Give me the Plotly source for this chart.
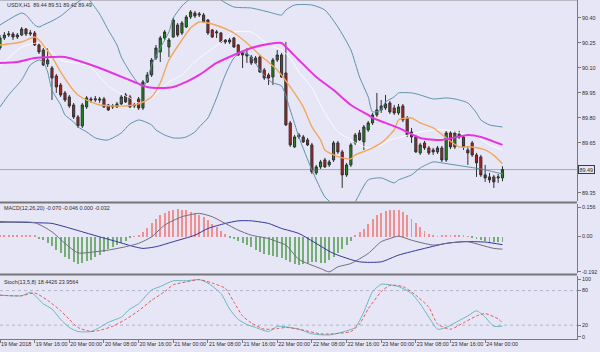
import plotly.graph_objects as go

# ---------------- data (H1 bars, index = hours from 19 Mar 08:00) ----------------
tick_bars = [0, 8, 16, 24, 32, 40, 48, 56, 64, 72, 80, 88, 96, 104, 112]
tick_labels = ["19 Mar 2018", "19 Mar 16:00", "20 Mar 00:00", "20 Mar 08:00", "20 Mar 16:00",
               "21 Mar 00:00", "21 Mar 08:00", "21 Mar 16:00", "22 Mar 00:00", "22 Mar 08:00",
               "22 Mar 16:00", "23 Mar 00:00", "23 Mar 08:00", "23 Mar 16:00", "24 Mar 00:00"]

open_ = [
    90.220, 90.280, 90.298, 90.304, 90.286, 90.298, 90.334, 90.304, 90.310, 90.238,
    90.208, 90.124, 90.100, 90.052, 89.998, 89.950, 89.926, 89.878, 89.806, 89.752,
    89.866, 89.914, 89.908, 89.914, 89.914, 89.878, 89.866, 89.866, 89.884, 89.938,
    89.926, 89.872, 89.914, 89.860, 90.016, 90.058, 90.160, 90.196, 90.280, 90.226,
    90.286, 90.358, 90.310, 90.346, 90.406, 90.430, 90.418, 90.418, 90.388, 90.328,
    90.310, 90.310, 90.268, 90.268, 90.280, 90.238, 90.190, 90.172, 90.166, 90.160,
    90.166, 90.088, 90.058, 90.046, 90.148, 90.178, 90.070, 89.770, 89.626, 89.686,
    89.686, 89.668, 89.638, 89.470, 89.506, 89.548, 89.518, 89.548, 89.650, 89.596,
    89.458, 89.518, 89.650, 89.710, 89.656, 89.728, 89.770, 89.818, 89.848, 89.860,
    89.890, 89.860, 89.830, 89.872, 89.800, 89.716, 89.686, 89.590, 89.650, 89.620,
    89.608, 89.596, 89.620, 89.548, 89.710, 89.626, 89.704, 89.686, 89.608, 89.650,
    89.578, 89.566, 89.458, 89.446, 89.446, 89.440, 89.440]
high = [
    90.298, 90.316, 90.322, 90.316, 90.310, 90.346, 90.340, 90.328, 90.322, 90.250,
    90.220, 90.220, 90.112, 90.064, 90.010, 89.962, 89.938, 89.890, 89.818, 89.890,
    89.932, 89.926, 89.932, 89.926, 89.926, 89.884, 89.884, 89.896, 89.938, 89.950,
    89.938, 89.890, 89.926, 90.028, 90.076, 90.160, 90.238, 90.292, 90.328, 90.280,
    90.400, 90.370, 90.382, 90.418, 90.448, 90.442, 90.436, 90.430, 90.394, 90.334,
    90.328, 90.316, 90.274, 90.280, 90.286, 90.244, 90.196, 90.220, 90.178, 90.172,
    90.178, 90.100, 90.070, 90.160, 90.208, 90.190, 90.256, 89.782, 89.698, 89.710,
    89.698, 89.680, 89.650, 89.518, 89.548, 89.560, 89.548, 89.662, 89.662, 89.608,
    89.530, 89.650, 89.710, 89.728, 89.758, 89.782, 89.830, 89.950, 89.908, 89.938,
    89.902, 89.878, 89.884, 89.884, 89.812, 89.740, 89.698, 89.650, 89.662, 89.632,
    89.620, 89.632, 89.632, 89.722, 89.722, 89.722, 89.722, 89.698, 89.632, 89.662,
    89.590, 89.578, 89.518, 89.470, 89.458, 89.464, 89.510]
low = [
    90.208, 90.268, 90.286, 90.268, 90.274, 90.292, 90.292, 90.292, 90.232, 90.184,
    90.112, 90.106, 89.908, 89.950, 89.926, 89.896, 89.860, 89.794, 89.740, 89.740,
    89.854, 89.890, 89.896, 89.890, 89.860, 89.842, 89.854, 89.860, 89.878, 89.890,
    89.860, 89.860, 89.848, 89.848, 90.010, 90.046, 90.148, 90.136, 90.268, 90.166,
    90.280, 90.286, 90.298, 90.340, 90.394, 90.400, 90.406, 90.370, 90.298, 90.280,
    90.280, 90.250, 90.244, 90.244, 90.220, 90.172, 90.100, 90.130, 90.118, 90.124,
    90.070, 90.028, 89.998, 89.998, 90.136, 90.040, 89.752, 89.626, 89.620, 89.674,
    89.650, 89.632, 89.464, 89.458, 89.494, 89.500, 89.506, 89.536, 89.584, 89.380,
    89.446, 89.506, 89.638, 89.662, 89.608, 89.716, 89.758, 89.806, 89.830, 89.848,
    89.824, 89.818, 89.818, 89.776, 89.686, 89.650, 89.590, 89.578, 89.608, 89.578,
    89.578, 89.584, 89.536, 89.536, 89.614, 89.614, 89.674, 89.608, 89.518, 89.566,
    89.446, 89.446, 89.416, 89.410, 89.380, 89.410, 89.420]
close = [
    90.280, 90.298, 90.304, 90.286, 90.298, 90.334, 90.304, 90.310, 90.238, 90.196,
    90.118, 90.148, 90.040, 89.986, 89.938, 89.908, 89.872, 89.806, 89.752, 89.878,
    89.920, 89.908, 89.914, 89.908, 89.866, 89.848, 89.872, 89.884, 89.926, 89.896,
    89.866, 89.878, 89.860, 90.016, 90.058, 90.148, 90.220, 90.280, 90.316, 90.268,
    90.388, 90.298, 90.370, 90.406, 90.436, 90.412, 90.424, 90.376, 90.310, 90.286,
    90.316, 90.256, 90.256, 90.256, 90.226, 90.178, 90.178, 90.184, 90.130, 90.130,
    90.076, 90.040, 90.040, 90.148, 90.178, 90.046, 89.758, 89.638, 89.686, 89.698,
    89.656, 89.638, 89.476, 89.506, 89.536, 89.506, 89.536, 89.650, 89.596, 89.458,
    89.518, 89.638, 89.698, 89.668, 89.746, 89.770, 89.818, 89.848, 89.872, 89.884,
    89.836, 89.830, 89.866, 89.788, 89.698, 89.686, 89.596, 89.638, 89.620, 89.590,
    89.596, 89.620, 89.548, 89.710, 89.626, 89.710, 89.686, 89.626, 89.590, 89.578,
    89.530, 89.458, 89.440, 89.428, 89.416, 89.446, 89.490]
bars = list(range(len(close)))
last_price = 89.49

# Bollinger bands
bb_up_bar = [0, 5, 6, 8, 9, 10, 12, 14, 16, 18, 20, 21, 23, 25, 27, 28, 30, 32, 33, 34,
             35, 37, 39, 40, 42, 44, 45, 47, 50, 51, 54, 58, 62, 65, 66, 68, 72, 75, 78, 81,
             83, 85, 86, 88, 89, 91, 92, 95, 97, 100, 103, 105, 108, 110, 111, 113, 116]
bb_up = [90.358, 90.430, 90.418, 90.358, 90.346, 90.358, 90.382, 90.412, 90.454, 90.496,
         90.526, 90.496, 90.424, 90.328, 90.238, 90.166, 90.076, 90.004, 89.986, 90.028,
         90.118, 90.220, 90.316, 90.400, 90.472, 90.520, 90.556, 90.568, 90.538, 90.508,
         90.466, 90.460, 90.436, 90.418, 90.448, 90.478, 90.478, 90.448, 90.346, 90.208,
         90.046, 89.926, 89.836, 89.848, 89.896, 89.926, 89.950, 89.950, 89.938, 89.914,
         89.920, 89.914, 89.890, 89.830, 89.788, 89.758, 89.746]
bb_lo_bar = [0, 2, 5, 7, 9, 10, 11, 12, 14, 15, 17, 18, 20, 22, 24, 25, 28, 30, 32, 33,
             35, 36, 38, 40, 42, 43, 45, 46, 48, 50, 52, 54, 56, 58, 60, 62, 63, 65, 67, 69,
             72, 75, 77, 78, 81, 82, 85, 88, 91, 92, 95, 97, 100, 102, 105, 108, 111, 113, 116]
bb_lo = [89.866, 89.938, 90.028, 90.118, 90.148, 90.136, 90.076, 89.968, 89.878, 89.818,
         89.776, 89.746, 89.716, 89.680, 89.668, 89.668, 89.710, 89.764, 89.788, 89.782,
         89.758, 89.728, 89.698, 89.680, 89.680, 89.686, 89.716, 89.746, 89.800, 89.920,
         90.058, 90.160, 90.196, 90.166, 90.088, 90.028, 90.010, 89.992, 89.848, 89.686,
         89.488, 89.326, 89.278, 89.248, 89.260, 89.296, 89.428, 89.440, 89.410, 89.428,
         89.458, 89.500, 89.536, 89.530, 89.518, 89.506, 89.494, 89.482, 89.464]
bb_mid_bar = [0, 5, 9, 11, 14, 17, 18, 21, 23, 25, 28, 30, 32, 35, 37, 39, 42, 44, 46, 48,
              51, 54, 58, 60, 62, 65, 67, 69, 72, 74, 76, 78, 81, 83, 85, 88, 90, 92, 95, 97,
              100, 103, 106, 110, 113, 116]
bb_mid = [90.112, 90.226, 90.250, 90.220, 90.148, 90.130, 90.130, 90.106, 90.046, 89.992,
          89.944, 89.920, 89.890, 89.920, 89.968, 90.016, 90.058, 90.112, 90.160, 90.196,
          90.256, 90.316, 90.316, 90.280, 90.238, 90.208, 90.160, 90.076, 89.980, 89.878,
          89.788, 89.716, 89.668, 89.638, 89.620, 89.638, 89.668, 89.680, 89.704, 89.716,
          89.728, 89.728, 89.710, 89.686, 89.638, 89.608]

# moving averages
ma_fast_bar = [0, 5, 8, 9, 12, 14, 16, 18, 21, 23, 26, 29, 32, 35, 37, 39, 42, 44, 46, 48,
               51, 54, 57, 60, 64, 67, 70, 72, 74, 75, 77, 79, 81, 82, 85, 88, 91, 92, 95, 97,
               100, 103, 106, 109, 112, 114, 116]
ma_fast = [90.238, 90.256, 90.286, 90.268, 90.166, 90.076, 89.998, 89.938, 89.896, 89.878,
           89.872, 89.872, 89.884, 89.926, 90.010, 90.148, 90.268, 90.340, 90.376, 90.370,
           90.346, 90.310, 90.250, 90.178, 90.088, 89.986, 89.866, 89.746, 89.668, 89.608,
           89.578, 89.560, 89.554, 89.578, 89.608, 89.650, 89.728, 89.788, 89.800, 89.770,
           89.740, 89.680, 89.626, 89.626, 89.608, 89.575, 89.525]
ma_slow_bar = [0, 4, 8, 12, 15, 19, 23, 27, 31, 34, 37, 40, 43, 46, 50, 54, 58, 62, 65, 66,
               69, 73, 77, 81, 85, 86, 89, 92, 97, 102, 108, 111, 116]
ma_slow = [90.130, 90.136, 90.160, 90.166, 90.166, 90.136, 90.100, 90.058, 90.016, 89.986,
           89.980, 89.986, 90.016, 90.058, 90.130, 90.178, 90.220, 90.244, 90.250, 90.226,
           90.148, 90.046, 89.968, 89.878, 89.818, 89.800, 89.770, 89.740, 89.680, 89.668,
           89.698, 89.686, 89.638]

# MACD(12,26,20)
macd_hist = [0.008, 0.008, 0.009, 0.008, 0.009, 0.009, 0.008, 0.006, 0.003,
             -0.0125, -0.021, -0.034, -0.052, -0.072, -0.090, -0.108, -0.122, -0.136, -0.147, -0.143,
             -0.134, -0.124, -0.111, -0.097, -0.081, -0.066, -0.057, -0.048, -0.034, -0.022,
             -0.007, 0.001, 0.007, 0.022, 0.047, 0.072, 0.095, 0.113, 0.127, 0.136,
             0.143, 0.147, 0.143, 0.140, 0.134, 0.127, 0.118, 0.104, 0.086, 0.068,
             0.050, 0.029, 0.011, -0.004, -0.014, -0.025, -0.036, -0.048, -0.057, -0.072,
             -0.084, -0.093, -0.099, -0.102, -0.108, -0.115, -0.125, -0.136, -0.147, -0.152,
             -0.147, -0.140, -0.136, -0.138, -0.142, -0.140, -0.125, -0.108, -0.090, -0.068,
             -0.048, -0.025, 0.004, 0.022, 0.041, 0.068, 0.093, 0.113, 0.127, 0.138,
             0.143, 0.145, 0.140, 0.131, 0.115, 0.095, 0.072, 0.050, 0.032, 0.014,
             0.007, 0.002, 0.005, 0.007, 0.004, 0.007, 0.004, 0.005, 0.002, -0.004,
             -0.011, -0.018, -0.025, -0.029, -0.032, -0.030, -0.032]
macd_bar = [0, 8, 12, 15, 18, 22, 25, 29, 32, 35, 38, 42, 46, 49, 52, 55, 58, 62, 64, 66,
            69, 74, 76, 78, 81, 85, 88, 90, 92, 95, 100, 104, 108, 111, 114, 116]
macd_line = [0.073, 0.072, 0.023, -0.039, -0.090, -0.084, -0.075, -0.057, -0.039, -0.004,
             0.059, 0.104, 0.122, 0.104, 0.068, 0.032, 0.005, -0.013, -0.030, -0.048,
             -0.125, -0.174, -0.192, -0.165, -0.147, -0.093, -0.030, -0.013, 0.000, -0.022,
             -0.048, -0.036, -0.030, -0.048, -0.066, -0.070]
signal_bar = [0, 8, 12, 15, 19, 23, 27, 31, 33, 36, 40, 45, 48, 52, 55, 58, 62, 65, 69, 77,
              83, 88, 92, 98, 103, 107, 112, 116]
signal_line = [0.077, 0.072, 0.068, 0.050, 0.023, -0.004, -0.030, -0.057, -0.066, -0.057,
               -0.030, 0.005, 0.041, 0.068, 0.082, 0.082, 0.068, 0.041, 0.014, -0.093,
               -0.138, -0.138, -0.102, -0.066, -0.039, -0.030, -0.032, -0.046]

# Stochastic(13,5,8)
stoch_k_bar = [0, 5, 7, 8, 10, 12, 14, 16, 18, 21, 23, 25, 28, 30, 32, 35, 37, 40, 43, 46,
               48, 51, 53, 55, 57, 59, 62, 64, 66, 69, 72, 76, 79, 82, 84, 86, 88, 90, 92, 95,
               97, 99, 101, 103, 106, 108, 110, 112, 114, 116]
stoch_k = [72, 71, 77, 72, 57, 48, 30, 16, 9, 9, 16, 25, 34, 48, 57, 81, 87, 97, 97, 99,
           93, 75, 48, 30, 21, 16, 9, 18, 17, 13, 5, 3, 8, 16, 43, 78, 91, 90, 87, 75,
           57, 34, 13, 16, 28, 36, 45, 34, 18, 18.44]
stoch_d_bar = [0, 5, 8, 11, 14, 16, 18, 21, 23, 26, 29, 32, 35, 38, 40, 43, 46, 49, 52, 54,
               56, 58, 61, 64, 66, 69, 74, 77, 81, 83, 85, 88, 90, 93, 96, 99, 101, 104, 107, 110,
               112, 115, 116]
stoch_d = [72, 71, 76, 63, 45, 30, 16, 9, 11, 18, 30, 45, 63, 78, 90, 95, 99, 93, 84, 60,
           36, 24, 13, 14, 16, 13, 5, 5, 9, 22, 48, 78, 89, 87, 72, 51, 22, 13, 24, 36,
           40, 31, 23.96]

header_text = "USDX,H1  89.44 89.51 89.42 89.49"
macd_text = "MACD(12,26,20) -0.070 -0.046 0.000 -0.032"
stoch_text = "Stoch(13,5,8) 18.4426 23.9564"
price_ticks = [89.35, 89.65, 89.80, 89.95, 90.10, 90.25, 90.40]
macd_ticks = [0.156, 0.0, -0.192]
macd_ticktext = ["0.156", "0.00", "-0.192"]
stoch_ticks = [100, 80, 20, 0]
stoch_levels = [80, 20]

# ---------------- style ----------------
BG = "#E6E6F7"
AXC = "#7A7A7A"
TXT = "#2E2E2E"
FONT = "Liberation Sans"
FS = 5.4
PLOT_H = 339.0


def pf(px_from_top):
    return (PLOT_H - px_from_top) / PLOT_H


fig = go.Figure()

fig.add_trace(go.Candlestick(
    x=bars, open=open_, high=high, low=low, close=close,
    increasing=dict(fillcolor="#1E8C1E", line=dict(color="#303030", width=1)),
    decreasing=dict(fillcolor="#B42020", line=dict(color="#303030", width=1)),
    whiskerwidth=0, showlegend=False, hoverinfo="skip", xaxis="x", yaxis="y"))

line_style = dict(shape="spline", smoothing=0.6)
fig.add_trace(go.Scatter(x=bb_mid_bar, y=bb_mid, mode="lines", yaxis="y",
                         line=dict(color="rgba(255,255,255,0.85)", width=1, **line_style),
                         showlegend=False, hoverinfo="skip"))
fig.add_trace(go.Scatter(x=bb_up_bar, y=bb_up, mode="lines", yaxis="y",
                         line=dict(color="#5E92A8", width=1, **line_style),
                         showlegend=False, hoverinfo="skip"))
fig.add_trace(go.Scatter(x=bb_lo_bar, y=bb_lo, mode="lines", yaxis="y",
                         line=dict(color="#5E92A8", width=1, **line_style),
                         showlegend=False, hoverinfo="skip"))
fig.add_trace(go.Scatter(x=ma_fast_bar, y=ma_fast, mode="lines", yaxis="y",
                         line=dict(color="#F2A85A", width=1.4, **line_style),
                         showlegend=False, hoverinfo="skip"))
fig.add_trace(go.Scatter(x=ma_slow_bar, y=ma_slow, mode="lines", yaxis="y",
                         line=dict(color="#E634E0", width=2, **line_style),
                         showlegend=False, hoverinfo="skip"))

# MACD
hist_colors = ["#EE9090" if v >= 0 else "#74AE74" for v in macd_hist]
fig.add_trace(go.Bar(x=bars, y=macd_hist, width=0.22, marker=dict(color=hist_colors, line=dict(width=0)),
                     yaxis="y2", showlegend=False, hoverinfo="skip"))
fig.add_trace(go.Scatter(x=signal_bar, y=signal_line, mode="lines", yaxis="y2",
                         line=dict(color="#34349A", width=1, **line_style),
                         showlegend=False, hoverinfo="skip"))
fig.add_trace(go.Scatter(x=macd_bar, y=macd_line, mode="lines", yaxis="y2",
                         line=dict(color="#6E6E7E", width=1, **line_style),
                         showlegend=False, hoverinfo="skip"))

# Stochastic
fig.add_trace(go.Scatter(x=stoch_k_bar, y=stoch_k, mode="lines", yaxis="y3",
                         line=dict(color="#6AB8BC", width=1, **line_style),
                         showlegend=False, hoverinfo="skip"))
fig.add_trace(go.Scatter(x=stoch_d_bar, y=stoch_d, mode="lines", yaxis="y3",
                         line=dict(color="#E05A5A", width=1, dash="3px,2px", **line_style),
                         showlegend=False, hoverinfo="skip"))

shapes = [
    dict(type="line", xref="paper", x0=0, x1=1, yref="y", y0=last_price, y1=last_price,
         line=dict(color="#A8A8B0", width=1), layer="below"),
    dict(type="rect", xref="paper", x0=0, x1=1, yref="paper", y0=pf(203.6), y1=pf(201.4),
         fillcolor="#767676", line=dict(width=0)),
    dict(type="rect", xref="paper", x0=0, x1=1, yref="paper", y0=pf(275.6), y1=pf(273.4),
         fillcolor="#767676", line=dict(width=0)),
    dict(type="line", xref="paper", x0=0, x1=1, yref="paper", y0=1, y1=1,
         line=dict(color="#8A8A8A", width=1)),
]
for lv in stoch_levels:
    shapes.append(dict(type="line", xref="paper", x0=0, x1=1, yref="y3", y0=lv, y1=lv,
                       line=dict(color="#B4B4CC", width=1, dash="dot"), layer="below"))

font = dict(family=FONT, size=FS, color=TXT)
annotations = [
    dict(text=header_text, xref="paper", yref="paper", x=5 / 577, y=pf(5), xanchor="left",
         yanchor="middle", showarrow=False, font=font),
    dict(text=macd_text, xref="paper", yref="paper", x=2 / 577, y=pf(207.5), xanchor="left",
         yanchor="middle", showarrow=False, font=font),
    dict(text=stoch_text, xref="paper", yref="paper", x=2 / 577, y=pf(282), xanchor="left",
         yanchor="middle", showarrow=False, font=font),
    dict(text=f"{last_price:.2f}", xref="paper", yref="y", x=1, y=last_price, xanchor="left",
         yanchor="middle", xshift=1, showarrow=False, font=font, bgcolor=BG,
         bordercolor="#3A3A3A", borderwidth=1, borderpad=0.5),
]

yax_common = dict(side="right", anchor="x", showline=True, linecolor=AXC, linewidth=1,
                  ticks="outside", ticklen=3, tickcolor=AXC, showgrid=False, zeroline=False,
                  tickfont=font, fixedrange=True, automargin=False)

fig.update_layout(
    width=600, height=352,
    margin=dict(l=0, r=23, t=0, b=13),
    paper_bgcolor=BG, plot_bgcolor=BG,
    showlegend=False,
    bargap=0,
    xaxis=dict(domain=[0, 1], range=[0, 133.2], anchor="y3", showline=True, linecolor=AXC,
               linewidth=1, ticks="outside", ticklen=3, tickcolor=AXC, tickangle=0,
               tickvals=tick_bars, ticktext=tick_labels, ticklabelposition="outside right",
               tickfont=font, showgrid=False, zeroline=False, automargin=False,
               rangeslider=dict(visible=False), fixedrange=True),
    yaxis=dict(domain=[pf(201.4), 1], range=[89.299, 90.508], tickvals=price_ticks,
               tickformat=".2f", **yax_common),
    yaxis2=dict(domain=[pf(273.4), pf(203.6)], range=[-0.2002, 0.1745], tickvals=macd_ticks,
                ticktext=macd_ticktext, **yax_common),
    yaxis3=dict(domain=[0, pf(275.6)], range=[-4, 106], tickvals=stoch_ticks, **yax_common),
    shapes=shapes,
    annotations=annotations,
)

fig.write_html("out.html")
